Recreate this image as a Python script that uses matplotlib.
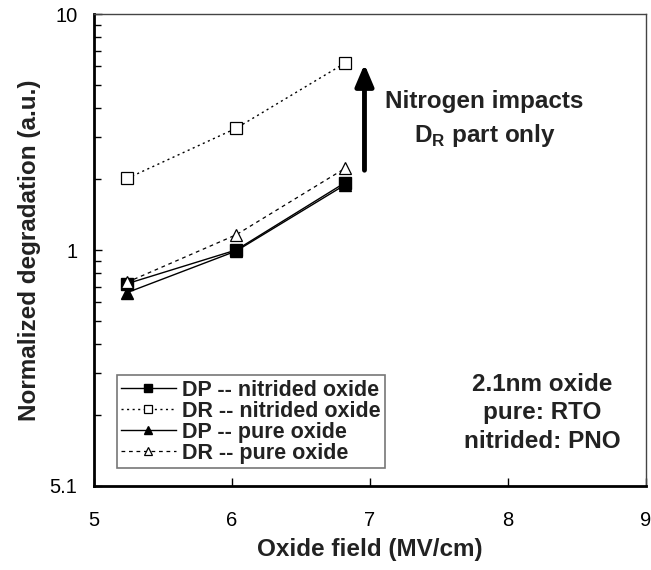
import matplotlib
matplotlib.use("Agg")
import matplotlib.pyplot as plt
from matplotlib.ticker import FixedLocator, LogLocator, NullFormatter

plt.rcParams['font.family'] = ['Liberation Sans', 'DejaVu Sans']
plt.rcParams['mathtext.fontset'] = 'custom'
plt.rcParams['mathtext.rm'] = 'Liberation Sans'
plt.rcParams['mathtext.bf'] = 'Liberation Sans:bold'

field = [5.24, 6.03, 6.82]
dp_nitrided = [0.72, 1.00, 1.93]
dr_nitrided = [2.01, 3.28, 6.20]
dp_pure = [0.66, 0.99, 1.89]
dr_pure = [0.73, 1.16, 2.22]

ytick_vals = [0.1, 1, 10]
ytick_labels = ["5.1", "1", "10"]
xtick_vals = [5, 6, 7, 8, 9]

fig = plt.figure(figsize=(6.51, 5.70), dpi=100)
ax = fig.add_axes([0.1444, 0.1474, 0.8479, 0.8280])

ax.plot(field, dp_nitrided, color='black', lw=1.0, marker='s', ms=8,
        mfc='black', mec='black', label='DP -- nitrided oxide')
ax.plot(field, dr_nitrided, color='black', lw=1.0, ls=(0, (1.5, 2.5)), marker='s', ms=8,
        mfc='white', mec='black', mew=0.9, label='DR -- nitrided oxide')
ax.plot(field, dp_pure, color='black', lw=1.0, marker='^', ms=8,
        mfc='black', mec='black', label='DP -- pure oxide')
ax.plot(field, dr_pure, color='black', lw=0.9, ls=(0, (3, 3)), marker='^', ms=8,
        mfc='white', mec='black', mew=0.9, label='DR -- pure oxide')

ax.set_yscale('log')
ax.set_ylim(0.1, 10)
ax.set_xlim(5, 9)
ax.yaxis.set_major_locator(FixedLocator(ytick_vals))
ax.set_yticklabels(ytick_labels)
ax.yaxis.set_minor_locator(LogLocator(base=10, subs=range(2, 10)))
ax.yaxis.set_minor_formatter(NullFormatter())
ax.set_xticks(xtick_vals)
ax.set_xticklabels([str(v) for v in xtick_vals])

ax.tick_params(axis='both', which='major', direction='in', length=6, width=1,
               labelsize=14.5, top=False, right=False)
ax.tick_params(axis='x', which='major', pad=18)
ax.tick_params(axis='y', which='major', pad=12)
ax.tick_params(axis='y', which='minor', direction='in', length=5, width=1, right=False)

for s in ['left', 'bottom']:
    ax.spines[s].set_linewidth(2)
for s in ['top', 'right']:
    ax.spines[s].set_linewidth(1)
    ax.spines[s].set_color('#444444')

ax.set_xlabel('Oxide field (MV/cm)', fontsize=17.5, fontweight='bold', labelpad=6,
              color='#222222')
ax.set_ylabel('Normalized degradation (a.u.)', fontsize=17.5, fontweight='bold', labelpad=6,
              color='#222222')

ax.annotate('', xy=(6.96, 6.3), xytext=(6.96, 2.12),
            arrowprops=dict(arrowstyle='-|>,head_length=1.3,head_width=0.55',
                            color='black', lw=3.5))
ax.text(7.83, 4.24, 'Nitrogen impacts', ha='center', va='center',
        fontsize=17.5, fontweight='bold', color='#222222')
ax.text(7.83, 3.05, r'$\mathbf{D}_\mathbf{R}$ part only', ha='center', va='center',
        fontsize=17.5, fontweight='bold', color='#222222')

ax.text(8.25, 0.204, '2.1nm oxide\npure: RTO\nnitrided: PNO', ha='center', va='center',
        fontsize=17.5, fontweight='bold', color='#222222', linespacing=1.3)

leg = ax.legend(loc='upper left', bbox_to_anchor=(0.041, 0.2345),
                prop={'weight': 'bold', 'size': 15.5}, handlelength=2.55,
                labelspacing=0.0, borderpad=0.2, handletextpad=0.3,
                borderaxespad=0, fancybox=False, framealpha=1, markerscale=0.75)
leg.get_frame().set_edgecolor('#777777')
leg.get_frame().set_linewidth(1.2)
for t in leg.get_texts():
    t.set_color('#222222')

fig.savefig('out.png', dpi=100)
